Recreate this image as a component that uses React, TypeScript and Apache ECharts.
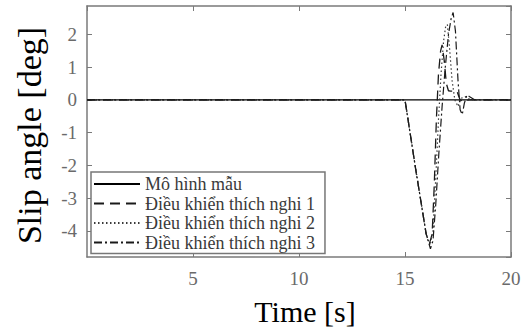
import React, { useEffect, useRef } from "react";
import * as echarts from "echarts";

const FONT = "Liberation Serif, Times New Roman, serif";

const seriesNames = [
  "Mô hình mẫu",
  "Điều khiển thích nghi 1",
  "Điều khiển thích nghi 2",
  "Điều khiển thích nghi 3",
];

const xTitle = "Time [s]";
const yTitle = "Slip angle [deg]";

// Reference model
const modelTime = [0, 20];
const modelValue = [0, 0];

// Adaptive control 1 (dashed)
const ctrl1Time = [0, 15, 15.5, 16.0, 16.15, 16.28, 16.38, 16.48, 16.58, 16.68, 16.75, 16.85, 16.95, 17.05, 17.15, 17.45, 17.6, 17.75, 18.0, 20];
const ctrl1Value = [0, 0, -2.1, -4.1, -4.4, -4.1, -2.6, -0.6, 0.8, 1.5, 1.68, 1.2, 0.5, 0.28, 0.27, 0.27, 0.0, -0.05, 0, 0];

// Adaptive control 2 (dotted)
const ctrl2Time = [0, 15, 15.5, 16.0, 16.18, 16.32, 16.45, 16.58, 16.7, 16.82, 16.92, 17.0, 17.1, 17.22, 17.35, 17.5, 17.65, 17.85, 18.1, 20];
const ctrl2Value = [0, 0, -2.1, -4.1, -4.45, -4.0, -2.4, -0.6, 0.8, 1.8, 2.25, 2.3, 1.6, 0.6, 0.0, -0.2, 0.05, 0.1, 0, 0];

// Adaptive control 3 (dash-dot)
const ctrl3Time = [0, 15, 15.5, 16.0, 16.2, 16.32, 16.45, 16.6, 16.75, 16.9, 17.05, 17.18, 17.27, 17.38, 17.5, 17.6, 17.7, 17.8, 17.92, 18.05, 18.3, 20];
const ctrl3Value = [0, 0, -2.1, -4.1, -4.55, -4.3, -3.2, -1.6, -0.2, 1.0, 2.0, 2.5, 2.67, 2.1, 0.6, -0.3, -0.45, -0.1, 0.15, 0.1, 0, 0];

const xMin = 0;
const xMax = 20;
const xStep = 5;
const yMin = -4.8;
const yMax = 2.87;

const zip = (t: number[], v: number[]) => t.map((x, i) => [x, v[i]]);

export default function App() {
  const ref = useRef<HTMLDivElement>(null);

  useEffect(() => {
    if (!ref.current) return;
    const chart = echarts.init(ref.current, undefined, { renderer: "svg" });
    const axisColor = "#7a7a7a";
    const labelColor = "#6a6a6a";
    const axisLine = { show: true, onZero: false, lineStyle: { color: axisColor, width: 1.5 } };
    const axisTick = { show: true, inside: true, length: 5, lineStyle: { color: axisColor, width: 1 } };

    const lineSeries = (name: string, data: number[][], type: any, width: number, color: string) => ({
      name,
      type: "line",
      data,
      symbol: "none",
      showSymbol: false,
      xAxisIndex: 0,
      yAxisIndex: 0,
      lineStyle: { color, width, type },
      itemStyle: { color },
    });

    chart.setOption({
      animation: false,
      backgroundColor: "#ffffff",
      textStyle: { fontFamily: FONT },
      grid: { left: 87, right: 16, top: 6, bottom: 78, containLabel: false, outerBoundsMode: "none" },
      graphic: [
        {
          type: "text",
          x: 29,
          y: 135.5,
          rotation: Math.PI / 2,
          silent: true,
          style: {
            text: yTitle,
            x: 0,
            y: 0,
            align: "center",
            verticalAlign: "middle",
            fontFamily: FONT,
            fontSize: 34,
            fill: "#000",
          },
        },
      ],
      legend: {
        orient: "vertical",
        left: 91,
        top: 172,
        itemWidth: 46,
        itemHeight: 14,
        itemGap: 1.5,
        padding: [3, 10, 2, 2],
        borderColor: "#777",
        borderWidth: 1.5,
        backgroundColor: "#ffffff",
        itemStyle: { opacity: 0, color: "transparent", borderWidth: 0 },
        textStyle: { fontFamily: FONT, fontSize: 18, color: "#3a3a3a", lineHeight: 18 },
        data: seriesNames,
      },
      xAxis: [
        {
          type: "value",
          position: "bottom",
          min: xMin,
          max: xMax,
          interval: xStep,
          axisLine,
          axisTick,
          splitLine: { show: false },
          axisLabel: { margin: 12, fontSize: 19, color: labelColor, fontFamily: FONT, showMinLabel: false },
          name: xTitle,
          nameLocation: "middle",
          nameGap: 39,
          nameTextStyle: { fontFamily: FONT, fontSize: 30, color: "#000", padding: [0, 0, 0, 12] },
        },
        {
          type: "value",
          position: "top",
          min: xMin,
          max: xMax,
          interval: xStep,
          axisLine,
          axisTick,
          splitLine: { show: false },
          axisLabel: { show: false },
        },
      ],
      yAxis: [
        {
          type: "value",
          position: "left",
          min: yMin,
          max: yMax,
          splitNumber: 8,
          axisLine,
          axisTick,
          splitLine: { show: false },
          axisLabel: { margin: 10, fontSize: 19, color: labelColor, fontFamily: FONT, showMinLabel: false, showMaxLabel: false },
        },
        {
          type: "value",
          position: "right",
          min: yMin,
          max: yMax,
          splitNumber: 8,
          axisLine,
          axisTick,
          splitLine: { show: false },
          axisLabel: { show: false },
        },
      ],
      series: [
        lineSeries(seriesNames[0], zip(modelTime, modelValue), "solid", 1.3, "#000000"),
        lineSeries(seriesNames[1], zip(ctrl1Time, ctrl1Value), [10, 6], 1.3, "#1a1a1a"),
        lineSeries(seriesNames[2], zip(ctrl2Time, ctrl2Value), [1.5, 2.5], 1.2, "#3a3a3a"),
        lineSeries(seriesNames[3], zip(ctrl3Time, ctrl3Value), [8, 3, 2, 3], 1.2, "#1a1a1a"),
      ],
    });

    return () => chart.dispose();
  }, []);

  return (
    <div
      ref={ref}
      style={{ position: "fixed", left: 0, top: 0, width: 527, height: 335, background: "#fff" }}
    />
  );
}
